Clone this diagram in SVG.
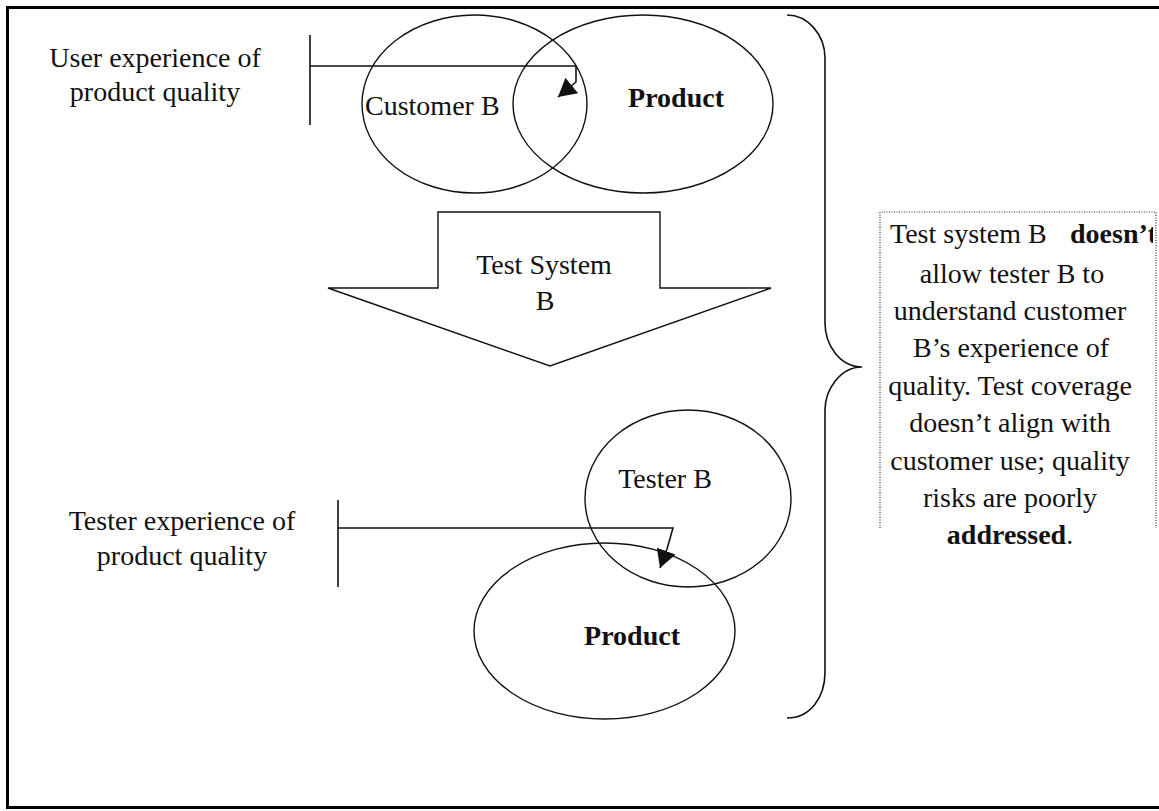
<svg xmlns="http://www.w3.org/2000/svg" width="1159" height="811" viewBox="0 0 1159 811">
  <style>
    .t { font-family: "Liberation Serif", "Times New Roman", serif; font-size: 28px; fill: #111; }
    .c { text-anchor: middle; }
    .b { font-weight: bold; }
    .shape { fill: none; stroke: #111; stroke-width: 1.4; }
    .line { fill: none; stroke: #111; stroke-width: 1.6; }
    .dots { fill: none; stroke: #333; stroke-width: 1.2; stroke-dasharray: 1 1.5; }
  </style>
  <defs>
    <marker id="head" markerUnits="userSpaceOnUse" viewBox="0 0 18 20" refX="18" refY="10" markerWidth="18" markerHeight="20" orient="auto">
      <path d="M0,0 L18,10 L0,20 z" fill="#111"/>
    </marker>
    <clipPath id="noteClip">
      <rect x="880" y="212" width="273" height="340"/>
    </clipPath>
  </defs>

  <rect width="1159" height="811" fill="#fff"/>
  <!-- frame -->
  <rect x="7.5" y="7.5" width="1170" height="800" fill="none" stroke="#000" stroke-width="3"/>

  <!-- upper label -->
  <g id="user-label">
    <text class="t c" x="155" y="67">User experience of</text>
    <text class="t c" x="155" y="101">product quality</text>
  </g>

  <!-- customer / product overlap -->
  <g id="customer-b">
    <ellipse class="shape" cx="474.5" cy="104" rx="112.5" ry="89"/>
    <text class="t" x="365" y="115">Customer B</text>
  </g>
  <g id="product-top">
    <ellipse class="shape" cx="643" cy="104" rx="130" ry="89"/>
    <text class="t b c" x="676" y="107">Product</text>
  </g>

  <!-- block arrow -->
  <g id="test-system-b">
    <polygon class="shape" points="438,212 660,212 660,288 771,288 550,366 328,288 438,288"/>
    <text class="t c" x="544" y="274">Test System</text>
    <text class="t c" x="545" y="310">B</text>
  </g>

  <!-- lower label -->
  <g id="tester-label">
    <text class="t c" x="182" y="530">Tester experience of</text>
    <text class="t c" x="182" y="565">product quality</text>
  </g>

  <!-- tester / product overlap -->
  <g id="tester-b">
    <ellipse class="shape" cx="688" cy="498.5" rx="103" ry="88.5"/>
    <text class="t c" x="665" y="488">Tester B</text>
  </g>
  <g id="product-bottom">
    <ellipse class="shape" cx="604.5" cy="631" rx="130.5" ry="88"/>
    <text class="t b c" x="632" y="645">Product</text>
  </g>

  <!-- brace -->
  <g id="brace">
    <path class="line" d="M787,15 C808,15 825,35 825,58 V323 C825,345 840,367 862,367 C840,367 825,390 825,410 V672 C825,698 810,718 787,718"/>
  </g>

  <!-- note -->
  <g id="note">
    <path class="dots" d="M880,528 V212 H1156 V528"/>
    <g clip-path="url(#noteClip)">
      <text class="t" x="890" y="243">Test system B</text>
      <text class="t b" x="1070" y="243">doesn’t</text>
    </g>
    <text class="t c" x="1012" y="283">allow tester B to</text>
    <text class="t c" x="1010" y="320">understand customer</text>
    <text class="t c" x="1011" y="357">B’s experience of</text>
    <text class="t c" x="1010" y="395">quality. Test coverage</text>
    <text class="t c" x="1010" y="432">doesn’t align with</text>
    <text class="t c" x="1010" y="470">customer use; quality</text>
    <text class="t c" x="1010" y="507">risks are poorly</text>
    <text class="t c" x="1010" y="544"><tspan class="b">addressed</tspan>.</text>
  </g>

  <!-- pointers -->
  <g id="connectors">
    <line class="line" x1="310" y1="35" x2="310" y2="125"/>
    <path class="line" d="M310,66 H576 V82 L558,97" marker-end="url(#head)"/>
    <line class="line" x1="338" y1="500" x2="338" y2="587"/>
    <path class="line" d="M338,528 H673 L667,549 L660,568" marker-end="url(#head)"/>
  </g>
</svg>
